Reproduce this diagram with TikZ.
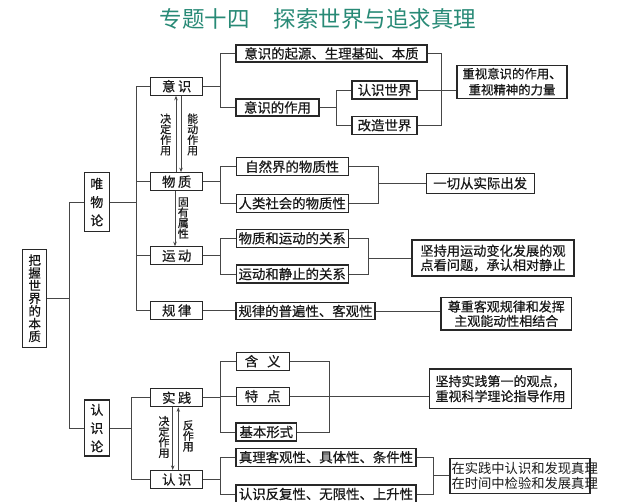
\documentclass[tikz,border=0pt]{standalone}
\usepackage{fontspec}
\newfontfamily\cjk{Noto Sans CJK SC}[FakeBold=0.6]
\newfontfamily\cjkt{Noto Sans CJK SC}
\usetikzlibrary{arrows.meta}
\definecolor{boxc}{RGB}{40,40,40}
\definecolor{linec}{RGB}{70,70,70}
\definecolor{txt}{RGB}{25,25,25}
\definecolor{titlec}{RGB}{40,138,118}
\tikzset{
  bx/.style={draw=boxc, line width=1.1pt, fill=white, inner sep=0pt, text=txt,
    font=\cjk\fontsize{13.4}{16}\selectfont, minimum height=18pt},
  bx2/.style={bx, align=center},
  vbx/.style={bx, align=center, minimum width=25pt},
  ln/.style={draw=linec, line width=0.9pt},
  lab/.style={font=\cjk\fontsize{11}{10.6}\selectfont, align=center, inner sep=0pt, text=txt},
  arr/.style={ln, -{Stealth[length=4.5pt,width=3.5pt]}},
}
\begin{document}
\begin{tikzpicture}[x=1pt,y=-1pt]
\fill[white] (0,0) rectangle (640,502);
\useasboundingbox (0,0) rectangle (640,502);
% title
\node[font=\cjkt\fontsize{22.5}{24}\selectfont, text=titlec, inner sep=0pt] (title) at (318,19) {专题十四\hspace{24pt}探索世界与追求真理};
% column coordinates
\coordinate (c1) at (69,0);
\coordinate (c2) at (136,0);
\coordinate (c3) at (131,0);
\coordinate (c4) at (220.7,0);
\coordinate (c5) at (336.7,0);
\coordinate (c6) at (441.7,0);
\coordinate (c7) at (378.3,0);
\coordinate (c8) at (368.3,0);
\coordinate (c9) at (329.3,0);
\coordinate (c10) at (433.3,0);
\coordinate (a1) at (176,0);
\coordinate (a2) at (181,0);
\coordinate (a3) at (175,0);
\coordinate (a4) at (172.7,0);
\coordinate (a5) at (178.3,0);
% root and level 1
\node[vbx, minimum width=24pt, minimum height=98pt, font=\cjk\fontsize{12.5}{12.7}\selectfont] (root) at (34.7,298.3) {把\\握\\世\\界\\的\\本\\质};
\node[vbx, minimum height=59pt, font=\cjk\fontsize{13}{18.3}\selectfont] (wu) at (96.8,202) {唯\\物\\论};
\node[vbx, minimum height=56pt, font=\cjk\fontsize{13}{18.3}\selectfont] (ren) at (96.8,428) {认\\识\\论};
% level 2
\node[bx, minimum width=52pt] (yishi) at (176.7,86.2) {意\hspace{2.5pt}识};
\node[bx, minimum width=52pt] (wuzhi) at (176.7,181.7) {物\hspace{2.5pt}质};
\node[bx, minimum width=52pt] (yundong) at (176.7,255.8) {运\hspace{2.5pt}动};
\node[bx, minimum width=52pt] (guilv) at (176.7,310.5) {规\hspace{2.5pt}律};
\node[bx, minimum width=52pt] (shijian) at (176.7,397.8) {实\hspace{2.5pt}践};
\node[bx, minimum width=52pt] (renshi) at (176.7,479.5) {认\hspace{2.5pt}识};
% level 3
\node[bx, minimum width=191pt, minimum height=17pt] (origin) at (331.5,53.5) {意识的起源、生理基础、本质};
\node[bx, minimum width=83pt, minimum height=17pt] (zy) at (277.5,107.5) {意识的作用};
\node[bx, minimum width=65pt] (rs) at (384.5,90) {认识世界};
\node[bx, minimum width=65pt] (gz) at (384.5,125.3) {改造世界};
\node[bx2, minimum width=110pt, minimum height=33pt, font=\cjk\fontsize{12.4}{16}\selectfont] (zs) at (512,81.7) {重视意识的作用、\\重视精神的力量};
\node[bx, minimum width=112.3pt] (zr) at (292.2,166.7) {自然界的物质性};
\node[bx, minimum width=112.3pt] (rl) at (292.2,203.3) {人类社会的物质性};
\node[bx, minimum width=108.3pt, minimum height=20pt] (yq) at (480.2,183.3) {一切从实际出发};
\node[bx, minimum width=112.3pt] (wy) at (292.2,238.3) {物质和运动的关系};
\node[bx, minimum width=112.3pt] (yj) at (292.2,274) {运动和静止的关系};
\node[bx2, minimum width=162pt, minimum height=36pt, font=\cjk\fontsize{13.2}{14.2}\selectfont] (jc) at (493,258) {坚持用运动变化发展的观\\点看问题，承认相对静止};
\node[bx, minimum width=139pt, minimum height=17pt] (gp) at (305.5,311) {规律的普遍性、客观性};
\node[bx2, minimum width=130.7pt, minimum height=32.7pt, font=\cjk\fontsize{13}{14.4}\selectfont] (zz) at (506.3,313.7) {尊重客观规律和发挥\\主观能动性相结合};
\node[bx, minimum width=53.3pt] (hy) at (262.7,361.2) {含\hspace{9pt}义};
\node[bx, minimum width=53.3pt] (td) at (262.7,396.2) {特\hspace{9pt}点};
\node[bx, minimum width=60.7pt] (jb) at (266.3,432) {基本形式};
\node[bx2, minimum width=142.4pt, minimum height=39.3pt, font=\cjk\fontsize{13}{15}\selectfont] (sjd) at (500.5,388.7) {坚持实践第一的观点，\\重视科学理论指导作用};
\node[bx, minimum width=180pt] (zl) at (326,457.2) {真理客观性、具体性、条件性};
\node[bx, minimum width=180pt] (rf) at (326,494) {认识反复性、无限性、上升性};
\node[bx, line width=1.6pt, minimum width=140pt, minimum height=35pt, inner xsep=1.5pt, align=left, font=\cjkt\fontsize{13.3}{14.3}\selectfont] (zx) at (520,475.8) {\makebox[137pt][l]{在实践中认识和发现真理}\\\makebox[137pt][l]{在时间中检验和发展真理}};
% arrow labels
\node[lab] (l1) at (165.7,134.5) {决\\定\\作\\用};
\node[lab] (l2) at (192.7,134.5) {能\\动\\作\\用};
\node[lab] (l3) at (183.3,218) {固\\有\\属\\性};
\node[lab] (l4) at (164,437) {决\\定\\作\\用};
\node[lab] (l5) at (188.3,436) {反\\作\\用};
% connectors: root
\draw[ln] (root.east) -- (root.east -| c1);
\draw[ln] (wu.west) -- (wu.west -| c1) -- (ren.west -| c1) -- (ren.west);
% wuwulun
\draw[ln] (wu.east) -- (wu.east -| c2);
\draw[ln] (yishi.west) -- (yishi.west -| c2) -- (guilv.west -| c2) -- (guilv.west);
\draw[ln] (wuzhi.west) -- (wuzhi.west -| c2);
\draw[ln] (yundong.west) -- (yundong.west -| c2);
% renshilun
\draw[ln] (ren.east) -- (ren.east -| c3);
\draw[ln] (shijian.west) -- (shijian.west -| c3) -- (renshi.west -| c3) -- (renshi.west);
% yishi
\draw[ln] (yishi.east) -- (yishi.east -| c4);
\draw[ln] (origin.west) -- (origin.west -| c4) -- (zy.west -| c4) -- (zy.west);
\draw[ln] (zy.east) -- (zy.east -| c5);
\draw[ln] (rs.west) -- (rs.west -| c5) -- (gz.west -| c5) -- (gz.west);
\draw[ln] (origin.east) -- (origin.east -| c6) -- (gz.east -| c6) -- (gz.east);
\draw[ln] (rs.east) -- (rs.east -| zs.west);
% wuzhi
\draw[ln] (wuzhi.east) -- (wuzhi.east -| c4);
\draw[ln] (zr.west) -- (zr.west -| c4) -- (rl.west -| c4) -- (rl.west);
\draw[ln] (zr.east) -- (zr.east -| c7) -- (rl.east -| c7) -- (rl.east);
\draw[ln] (yq.west -| c7) -- (yq.west);
% yundong
\draw[ln] (yundong.east) -- (yundong.east -| c4);
\draw[ln] (wy.west) -- (wy.west -| c4) -- (yj.west -| c4) -- (yj.west);
\draw[ln] (wy.east) -- (wy.east -| c8) -- (yj.east -| c8) -- (yj.east);
\draw[ln] (jc.west -| c8) -- (jc.west);
% guilv
\draw[ln] (guilv.east) -- (guilv.east -| gp.west);
\draw[ln] (gp.east) -- (gp.east -| zz.west);
% shijian
\draw[ln] (shijian.east) -- (shijian.east -| c4);
\draw[ln] (hy.west) -- (hy.west -| c4) -- (jb.west -| c4) -- (jb.west);
\draw[ln] (td.west) -- (td.west -| c4);
\draw[ln] (hy.east) -- (hy.east -| c9) -- (jb.east -| c9) -- (jb.east);
\draw[ln] (td.east) -- (td.east -| sjd.west);
% renshi
\draw[ln] (renshi.east) -- (renshi.east -| c4);
\draw[ln] (zl.west) -- (zl.west -| c4) -- (rf.west -| c4) -- (rf.west);
\draw[ln] (zl.east) -- (zl.east -| c10) -- (rf.east -| c10) -- (rf.east);
\draw[ln] (zx.west -| c10) -- (zx.west);
% arrows
\draw[arr] (wuzhi.north -| a1) -- (yishi.south -| a1);
\draw[arr] (yishi.south -| a2) -- (wuzhi.north -| a2);
\draw[arr] (wuzhi.south -| a3) -- (yundong.north -| a3);
\draw[arr] (shijian.south -| a4) -- (renshi.north -| a4);
\draw[arr] (renshi.north -| a5) -- (shijian.south -| a5);
\end{tikzpicture}
\end{document}
